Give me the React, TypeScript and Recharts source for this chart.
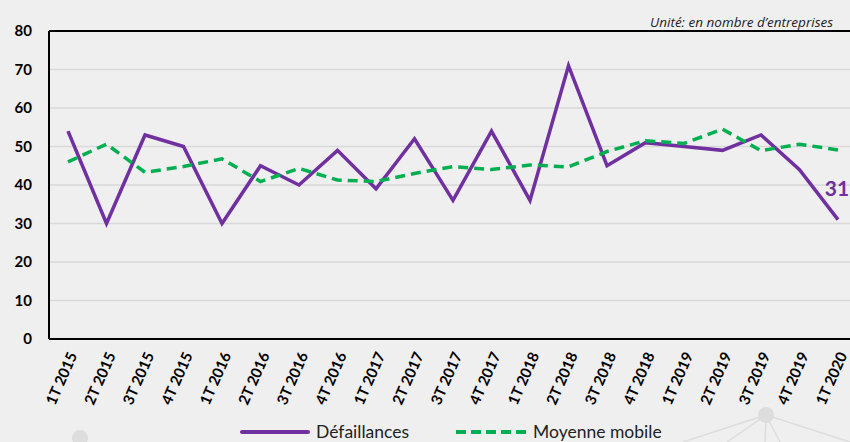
import React from 'react';
import { LineChart, Line, XAxis, YAxis, CartesianGrid, ReferenceLine, Legend, LabelList } from 'recharts';

const quarters = [
  '1T 2015', '2T 2015', '3T 2015', '4T 2015',
  '1T 2016', '2T 2016', '3T 2016', '4T 2016',
  '1T 2017', '2T 2017', '3T 2017', '4T 2017',
  '1T 2018', '2T 2018', '3T 2018', '4T 2018',
  '1T 2019', '2T 2019', '3T 2019', '4T 2019',
  '1T 2020',
];

const defaillances = [54, 30, 53, 50, 30, 45, 40, 49, 39, 52, 36, 54, 36, 71, 45, 51, 50, 49, 53, 44, 31];

const moyenneMobile = [
  46, 50.6, 43.3, 44.8, 46.8, 40.9, 44.3, 41.3, 40.9, 43, 44.8, 44,
  45.2, 44.7, 48.7, 51.5, 50.8, 54.5, 48.9, 50.6, 49.1,
];

const yTicks = [0, 10, 20, 30, 40, 50, 60, 70, 80];

const data = quarters.map((q, i) => ({
  quarter: q,
  defaillances: defaillances[i],
  moyenne: moyenneMobile[i],
}));

const FONT = 'Lato, "Open Sans", sans-serif';
const PURPLE = '#7030a0';
const GREEN = '#00b050';

function QuarterTick(props: any) {
  const { x, y, payload } = props;
  return (
    <g transform={`translate(${x + 5},${y + 6})`}>
      <text
        textAnchor="end"
        transform="rotate(-66)"
        fontFamily={FONT}
        fontWeight="bold"
        fontSize={15}
        fill="#000"
        dy={5}
      >
        {payload.value}
      </text>
    </g>
  );
}

function LastLabel(props: any) {
  const { x, y, value, index } = props;
  if (index !== quarters.length - 1) return null;
  return (
    <text x={x - 1} y={y - 24} textAnchor="middle" fontFamily={FONT} fontWeight="bold" fontSize={21} fill={PURPLE}>
      {value}
    </text>
  );
}

function ChartLegend() {
  return (
    <div
      style={{
        display: 'flex',
        alignItems: 'center',
        fontFamily: FONT,
        fontSize: 17.5,
        color: '#222',
        paddingLeft: 240,
        marginTop: 2,
        whiteSpace: 'nowrap',
      }}
    >
      <svg width={70} height={8} style={{ marginRight: 6 }}>
        <line x1={2} y1={4} x2={68} y2={4} stroke={PURPLE} strokeWidth={4} strokeLinecap="round" />
      </svg>
      <span style={{ marginRight: 46 }}>Défaillances</span>
      <svg width={72} height={8} style={{ marginRight: 6 }}>
        <line x1={1} y1={4} x2={71} y2={4} stroke={GREEN} strokeWidth={4} strokeDasharray="10 5" />
      </svg>
      <span>Moyenne mobile</span>
    </div>
  );
}

function Decoration() {
  const c = '#dddddd';
  return (
    <svg width={850} height={442} style={{ position: 'absolute', left: 0, top: 0 }}>
      <circle cx={80} cy={438} r={8} fill={c} />
      <line x1={766} y1={415} x2={683} y2={442} stroke={c} strokeWidth={1.5} />
      <line x1={766} y1={415} x2={727} y2={442} stroke={c} strokeWidth={1.5} />
      <line x1={766} y1={415} x2={765} y2={442} stroke={c} strokeWidth={1.5} />
      <line x1={766} y1={415} x2={780} y2={442} stroke={c} strokeWidth={1.5} />
      <line x1={766} y1={415} x2={850} y2={442} stroke={c} strokeWidth={1.5} />
      <circle cx={766} cy={415} r={8} fill={c} />
    </svg>
  );
}

export default function App() {
  return (
    <div
      style={{
        position: 'absolute',
        left: 0,
        top: 0,
        width: 850,
        height: 442,
        overflow: 'hidden',
        background: '#efefef',
      }}
    >
      <Decoration />
      <div
        style={{
          position: 'absolute',
          right: 17,
          top: 13,
          fontFamily: '"Open Sans", sans-serif',
          fontStyle: 'italic',
          fontSize: 13.5,
          color: '#222',
          whiteSpace: 'nowrap',
        }}
      >
        Unité: en nombre d’entreprises
      </div>
      <LineChart
        width={860}
        height={442}
        data={data}
        margin={{ top: 31, right: 3, bottom: 0, left: 0 }}
      >
        <CartesianGrid vertical={false} stroke="#d9d9d9" strokeWidth={1.5} />
        <XAxis
          dataKey="quarter"
          interval={0}
          padding={{ left: 19, right: 19 }}
          tick={<QuarterTick />}
          tickLine={false}
          axisLine={{ stroke: '#000', strokeWidth: 2 }}
          height={80}
        />
        <YAxis
          domain={[0, 80]}
          ticks={yTicks}
          width={49}
          tickSize={0}
          tickMargin={17}
          axisLine={{ stroke: '#000', strokeWidth: 2 }}
          tick={{ fontFamily: FONT, fontWeight: 'bold', fontSize: 15, fill: '#000' }}
        />
        <ReferenceLine y={80} stroke="#000" strokeWidth={2} />
        <Line
          type="linear"
          dataKey="defaillances"
          name="Défaillances"
          stroke={PURPLE}
          strokeWidth={3.5}
          dot={false}
          isAnimationActive={false}
        >
          <LabelList dataKey="defaillances" content={<LastLabel />} />
        </Line>
        <Line
          type="linear"
          dataKey="moyenne"
          name="Moyenne mobile"
          stroke={GREEN}
          strokeWidth={3.5}
          strokeDasharray="10 6"
          dot={false}
          isAnimationActive={false}
        />
        <Legend verticalAlign="bottom" height={23} content={<ChartLegend />} />
      </LineChart>
    </div>
  );
}
